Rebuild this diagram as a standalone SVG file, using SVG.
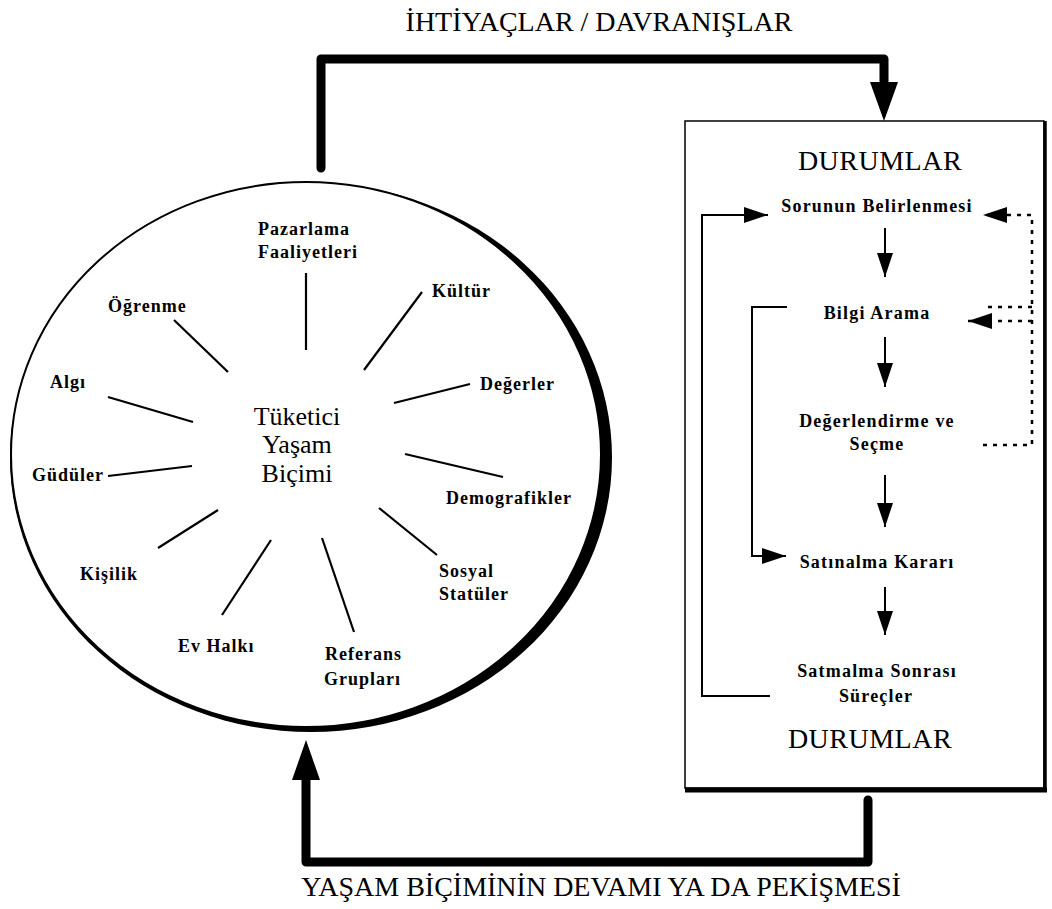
<svg xmlns="http://www.w3.org/2000/svg" width="1052" height="909" viewBox="0 0 1052 909">
  <style>
    text { font-family: "Liberation Serif", "Times New Roman", serif; fill: #000; }
    .cap { font-size: 28px; text-anchor: middle; }
    .sit { font-size: 28px; text-anchor: middle; letter-spacing: 0.5px; }
    .ctr { font-size: 26px; text-anchor: middle; }
    .lbl { font-size: 18px; font-weight: bold; letter-spacing: 1px; }
    .flow { font-size: 18px; font-weight: bold; letter-spacing: 1.2px; text-anchor: middle; }
    .spoke { stroke: #000; stroke-width: 2.2; stroke-linecap: butt; }
    .thin { fill: none; stroke: #000; stroke-width: 2; }
    .thick { fill: none; stroke: #000; stroke-width: 9; stroke-linejoin: round; stroke-linecap: round; }
    .dot { fill: none; stroke: #000; stroke-width: 2.5; stroke-dasharray: 4 6; }
    .head { fill: #000; stroke: none; }
  </style>
  <defs>
    <marker id="tip" viewBox="0 0 24 16" refX="24" refY="8" markerWidth="24" markerHeight="16" markerUnits="userSpaceOnUse" orient="auto">
      <path d="M0,0 L24,8 L0,16 Z" fill="#000"/>
    </marker>
  </defs>

  <rect width="1052" height="909" fill="#fff"/>

  <!-- consumer lifestyle circle: heavy crescent on the right, thin rim elsewhere -->
  <g id="lifestyle-circle">
    <ellipse cx="311" cy="457.5" rx="301" ry="274.5" fill="#000"/>
    <ellipse cx="306" cy="454.5" rx="295" ry="272.5" fill="#fff" stroke="#000" stroke-width="2"/>
  </g>

  <g id="center">
    <text class="ctr" x="297" y="425">Tüketici</text>
    <text class="ctr" x="297" y="453">Yaşam</text>
    <text class="ctr" x="297" y="482">Biçimi</text>
  </g>

  <g id="pazarlama">
    <text class="lbl" x="258" y="235">Pazarlama</text>
    <text class="lbl" x="258" y="258">Faaliyetleri</text>
  </g>
  <g id="kultur"><text class="lbl" x="432" y="297">Kültür</text></g>
  <g id="ogrenme"><text class="lbl" x="108" y="312">Öğrenme</text></g>
  <g id="degerler"><text class="lbl" x="480" y="390">Değerler</text></g>
  <g id="algi"><text class="lbl" x="50" y="388">Algı</text></g>
  <g id="guduler"><text class="lbl" x="32" y="481">Güdüler</text></g>
  <g id="demografikler"><text class="lbl" x="446" y="504">Demografikler</text></g>
  <g id="kisilik"><text class="lbl" x="80" y="580">Kişilik</text></g>
  <g id="sosyal">
    <text class="lbl" x="439" y="577">Sosyal</text>
    <text class="lbl" x="439" y="600">Statüler</text>
  </g>
  <g id="ev-halki"><text class="lbl" x="178" y="652">Ev Halkı</text></g>
  <g id="referans">
    <text class="lbl" x="325" y="660">Referans</text>
    <text class="lbl" x="324" y="685">Grupları</text>
  </g>

  <!-- situations box -->
  <g id="durumlar-box">
    <rect x="685" y="121" width="359" height="667" fill="none" stroke="#000" stroke-width="1.5"/>
    <line x1="1045" y1="121" x2="1045" y2="792" stroke="#000" stroke-width="3.5"/>
    <line x1="685" y1="790" x2="1047" y2="790" stroke="#000" stroke-width="5"/>
    <text class="sit" x="880" y="170">DURUMLAR</text>
    <text class="sit" x="870" y="748">DURUMLAR</text>
  </g>

  <g id="sorunun"><text class="flow" x="877" y="212">Sorunun Belirlenmesi</text></g>
  <g id="bilgi"><text class="flow" x="877" y="319">Bilgi Arama</text></g>
  <g id="degerlendirme">
    <text class="flow" x="877" y="427">Değerlendirme ve</text>
    <text class="flow" x="877" y="450">Seçme</text>
  </g>
  <g id="karar"><text class="flow" x="877" y="568">Satınalma Kararı</text></g>
  <g id="sonrasi">
    <text class="flow" x="877" y="677">Satmalma Sonrası</text>
    <text class="flow" x="876" y="702">Süreçler</text>
  </g>

  <g id="captions">
    <text class="cap" x="599" y="31">İHTİYAÇLAR / DAVRANIŞLAR</text>
    <text class="cap" x="601" y="896">YAŞAM BİÇİMİNİN DEVAMI YA DA PEKİŞMESİ</text>
  </g>

  <g id="connectors">
    <!-- spokes around the centre -->
    <line class="spoke" x1="306" y1="273" x2="306" y2="350"/>
    <line class="spoke" x1="422" y1="292" x2="364" y2="370"/>
    <line class="spoke" x1="174" y1="320" x2="228" y2="372"/>
    <line class="spoke" x1="470" y1="384" x2="394" y2="403"/>
    <line class="spoke" x1="108" y1="397" x2="193" y2="422"/>
    <line class="spoke" x1="108" y1="476" x2="192" y2="466"/>
    <line class="spoke" x1="405" y1="454" x2="503" y2="477"/>
    <line class="spoke" x1="158" y1="548" x2="218" y2="510"/>
    <line class="spoke" x1="379" y1="508" x2="437" y2="555"/>
    <line class="spoke" x1="222" y1="615" x2="271" y2="540"/>
    <line class="spoke" x1="322" y1="538" x2="354" y2="632"/>

    <!-- needs / behaviours loop -->
    <path class="thick" d="M321,168 V59 H884 V86"/>
    <polygon class="head" points="870,82 898,82 884,121"/>

    <!-- lifestyle continuation loop -->
    <path class="thick" d="M868,800 V862 H306 V776"/>
    <polygon class="head" points="292,780 320,780 306,740"/>

    <!-- decision steps -->
    <line class="thin" x1="885" y1="228" x2="885" y2="277" marker-end="url(#tip)"/>
    <line class="thin" x1="885" y1="337" x2="885" y2="387" marker-end="url(#tip)"/>
    <line class="thin" x1="885" y1="475" x2="885" y2="527" marker-end="url(#tip)"/>
    <line class="thin" x1="885" y1="587" x2="885" y2="635" marker-end="url(#tip)"/>

    <!-- feedback brackets -->
    <polyline class="thin" points="770,696 702,696 702,215 768,215" marker-end="url(#tip)"/>
    <polyline class="thin" points="787,307 752,307 752,556 786,556" marker-end="url(#tip)"/>

    <!-- dotted returns -->
    <polyline class="dot" points="983,445 1032,445 1032,215 983,215" marker-end="url(#tip)"/>
    <line class="dot" x1="1032" y1="307" x2="985" y2="307"/>
    <line class="dot" x1="1032" y1="321" x2="968" y2="321" marker-end="url(#tip)"/>
  </g>
</svg>
